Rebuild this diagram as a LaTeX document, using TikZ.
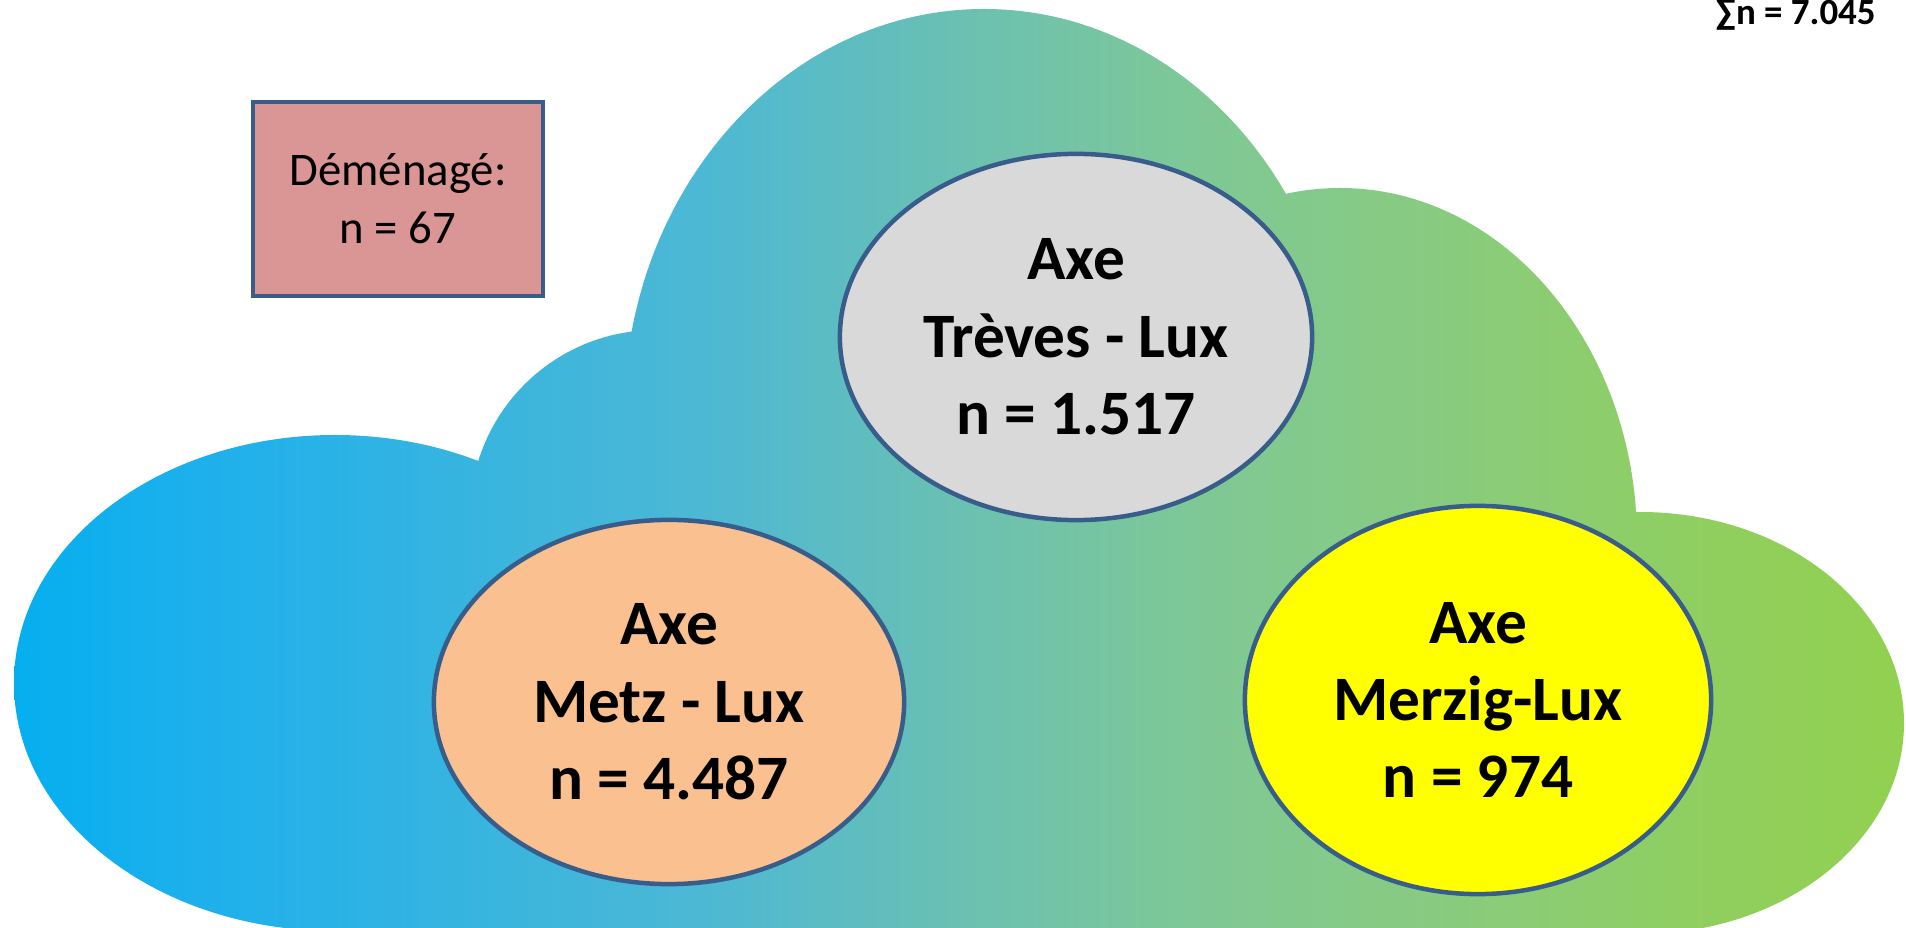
\documentclass[tikz,border=0pt]{standalone}
\usepackage{fontspec}
\setmainfont{Carlito}
\usetikzlibrary{shapes.geometric}

\definecolor{axeline}{HTML}{385D8A}
\definecolor{movedfill}{HTML}{D99694}
\definecolor{treves}{HTML}{D9D9D9}
\definecolor{metz}{HTML}{FAC090}
\definecolor{merzig}{HTML}{FFFF00}
\definecolor{cloudA}{HTML}{05AFEF}
\definecolor{cloudB}{HTML}{1EB0EC}
\definecolor{cloudC}{HTML}{4CB8D5}
\definecolor{cloudD}{HTML}{6AC0B2}
\definecolor{cloudE}{HTML}{7EC897}
\definecolor{cloudF}{HTML}{89CB7E}
\definecolor{cloudG}{HTML}{90CF5E}
\definecolor{cloudH}{HTML}{92D050}
\pgfdeclarehorizontalshading{cloudshade}{100bp}{color(0bp)=(cloudA); color(25bp)=(cloudA);
  color(30bp)=(cloudB); color(43bp)=(cloudC); color(50bp)=(cloudD); color(56bp)=(cloudE);
  color(63bp)=(cloudF); color(70bp)=(cloudG); color(75bp)=(cloudH); color(100bp)=(cloudH)}

\tikzset{
  axe/.style={ellipse, draw=axeline, line width=0.45mm, inner sep=0pt, align=center,
    font=\bfseries\fontsize{18}{22}\selectfont},
  moved/.style={rectangle, draw=axeline, line width=0.45mm, fill=movedfill, align=center,
    minimum width=2.9cm, minimum height=1.94cm, font=\fontsize{13.3}{16.6}\selectfont}
}

\begin{document}
\begin{tikzpicture}[x=0.01cm, y=-0.01cm]
    \useasboundingbox (0,0) rectangle (1906,928);
    \clip (0,0) rectangle (1906,928);
    \shade[shading=cloudshade] (335,683) ellipse [x radius=321, y radius=248]
        (656,516) circle [radius=186]
        (984,415) ellipse [x radius=360, y radius=406]
        (1340,540) ellipse [x radius=297, y radius=352]
        (1640,723) ellipse [x radius=264, y radius=211]
        (990,928) ellipse [x radius=700, y radius=400];
    \node[axe, fill=treves, minimum width=4.72cm, minimum height=3.66cm] (treves) at (1076,337) {Axe\\Trèves - Lux\\n = 1.517};
    \node[axe, fill=metz, minimum width=4.70cm, minimum height=3.64cm] (metz) at (669,702) {Axe\\Metz - Lux\\n = 4.487};
    \node[axe, fill=merzig, minimum width=4.66cm, minimum height=3.88cm] (merzig) at (1478,700) {Axe\\Merzig-Lux\\n = 974};
    \node[moved] (demenage) at (398,199) {Déménagé:\\n = 67};
    \node[anchor=base west, inner sep=0pt, font=\bfseries\fontsize{10.5}{12}\selectfont] (total) at (1715,25) {∑n = 7.045};
\end{tikzpicture}
\end{document}
